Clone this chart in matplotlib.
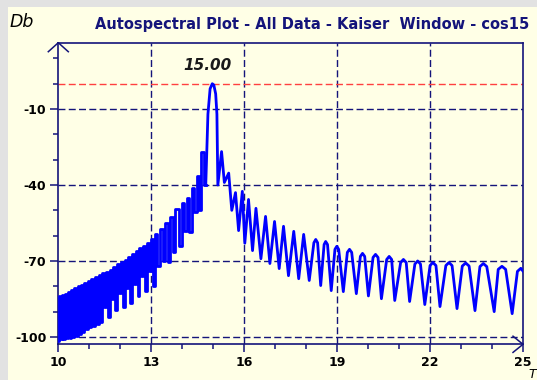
import matplotlib.pyplot as plt
from matplotlib.patches import Rectangle
import numpy as np

plt.rcParams["axes.unicode_minus"] = False

# spectrum: period T on x, level in Db on y
t_rise = [10.00, 10.04, 10.09, 10.14, 10.19, 10.24, 10.29, 10.34, 10.39, 10.44,
          10.49, 10.54, 10.59, 10.65, 10.70, 10.76, 10.81, 10.87, 10.92, 10.98,
          11.03, 11.09, 11.15, 11.21, 11.27, 11.33, 11.39, 11.45, 11.51, 11.57,
          11.63, 11.69, 11.75, 11.81, 11.87, 11.93, 11.99, 12.05, 12.11, 12.17,
          12.23, 12.29, 12.35, 12.41, 12.47, 12.53, 12.59, 12.65, 12.71, 12.77,
          12.83, 12.89, 12.95, 13.01, 13.08, 13.16, 13.24, 13.32, 13.41, 13.49,
          13.57, 13.65, 13.73, 13.83, 13.95, 14.03, 14.11, 14.19, 14.27, 14.35,
          14.43, 14.50, 14.56, 14.65, 14.76]
db_rise = [-101.5, -84.0, -101.0, -83.5, -101.0, -83.0, -100.5, -82.2, -100.5, -81.5,
           -100.0, -80.6, -99.5, -80.0, -99.0, -79.3, -98.0, -78.6, -97.0, -77.8,
           -96.2, -77.0, -95.6, -76.2, -95.0, -75.4, -94.2, -74.8, -88.0, -74.2,
           -92.0, -73.5, -85.0, -72.4, -89.5, -71.2, -82.5, -70.3, -88.0, -69.5,
           -80.5, -68.4, -86.5, -67.4, -79.0, -66.2, -84.0, -65.0, -76.0, -64.0,
           -82.0, -62.8, -74.0, -61.5, -80.0, -59.5, -72.0, -57.5, -70.0, -55.0,
           -70.5, -52.5, -66.5, -49.5, -64.0, -47.0, -58.0, -45.0, -58.5, -41.0,
           -50.5, -36.5, -50.0, -27.0, -40.0]

t_lobe = [14.76, 14.83, 14.90, 14.97, 15.02, 15.08, 15.12, 15.15]
db_lobe = [-40.0, -12.0, -2.0, 0.0, -0.5, -4.0, -12.0, -40.0]

t_tail = [15.27, 15.36, 15.50, 15.60, 15.72, 15.82, 15.94, 16.02,
          16.14, 16.27, 16.38, 16.54, 16.69, 16.83, 16.98, 17.13,
          17.27, 17.43, 17.60, 17.76, 17.92, 18.10,
          18.25, 18.31, 18.37, 18.47, 18.58, 18.63, 18.69, 18.81,
          18.93, 18.99, 19.05, 19.20, 19.33, 19.40, 19.47, 19.62,
          19.75, 19.82, 19.89, 20.01, 20.16, 20.24, 20.32, 20.43,
          20.60, 20.68, 20.76, 20.86, 21.05, 21.14, 21.23, 21.34,
          21.51, 21.60, 21.69, 21.83, 22.00, 22.09, 22.19, 22.32,
          22.51, 22.61, 22.71, 22.87, 23.04, 23.15, 23.26, 23.45,
          23.61, 23.72, 23.83, 24.07, 24.20, 24.32, 24.44, 24.65,
          24.82, 24.93, 25.00]
db_tail = [-26.8, -39.0, -35.3, -50.0, -43.0, -58.0, -42.5, -63.0,
           -45.7, -65.9, -49.2, -69.1, -52.4, -71.0, -54.4, -73.0,
           -56.3, -75.8, -58.3, -77.0, -59.5, -77.7,
           -62.8, -61.5, -62.8, -79.7, -63.5, -62.3, -63.5, -81.7,
           -65.4, -64.2, -65.4, -82.1, -66.6, -65.4, -66.6, -82.9,
           -68.2, -67.0, -68.2, -83.8, -68.6, -67.4, -68.6, -84.9,
           -69.4, -68.2, -69.4, -85.6, -70.6, -69.4, -70.6, -86.0,
           -71.2, -70.0, -71.2, -87.2, -71.8, -70.6, -71.8, -88.0,
           -71.8, -70.6, -71.8, -88.8, -72.0, -70.8, -72.0, -89.6,
           -72.2, -71.0, -72.2, -90.0, -73.3, -72.1, -73.3, -90.8,
           -74.1, -72.9, -74.0]

x_ticks = [10, 13, 16, 19, 22, 25]
y_ticks = [-100, -70, -40, -10]
ref_level = 0
peak_t = 15.0
peak_text = "15.00"
title = "Autospectral Plot - All Data - Kaiser  Window - cos15"

navy = "#14147a"
cream = "#ffffe6"
blue = "#0000ff"
dash = (0, (5, 2.4))

W, H = 537, 380
fig = plt.figure(figsize=(W / 100, H / 100), dpi=100, facecolor="#e2e2e2")
fig.add_artist(Rectangle((8 / W, 0), 1, 1 - 7 / H, transform=fig.transFigure,
                         facecolor=cream, edgecolor="none", zorder=0))

ax = fig.add_axes([58.3 / W, 1 - 344.3 / H, (523 - 58.3) / W, (344.3 - 42.7) / H])
ax.set_facecolor(cream)
ax.set_xlim(10, 25)
ax.set_ylim(-102.9, 16.2)

# grid
for x in x_ticks[1:-1]:
    ax.axvline(x, color=navy, lw=1.0, ls=dash, zorder=1)
for y in y_ticks:
    ax.axhline(y, color=navy, lw=1.0, ls=dash, zorder=1)
ax.axhline(ref_level, color="#ff4040", lw=1.0, ls=dash, zorder=1)

# dense rising part is drawn as steps, like the sampled original
ax.plot(t_rise, db_rise, color=blue, lw=2.0, drawstyle="steps-mid", zorder=3)
ax.plot(t_lobe + t_tail, db_lobe + db_tail, color=blue, lw=2.0, zorder=3)

ax.text(peak_t - 0.2, 5.4, peak_text, ha="center", va="baseline",
        fontsize=11, fontstyle="italic", fontweight="bold", color="#1a1a1a")

# ticks
ax.set_xticks(x_ticks)
ax.set_xticks(np.arange(10, 26, 1), minor=True)
ax.set_yticks(y_ticks)
ax.set_yticks(np.arange(-100, 20, 10), minor=True)
ax.tick_params(which="major", direction="out", length=5.5, width=1.1, color=navy,
               labelsize=9, pad=3)
ax.tick_params(which="minor", direction="out", length=3.5, width=1.1, color=navy)
for lab in ax.get_xticklabels() + ax.get_yticklabels():
    lab.set_fontweight("bold")

for s in ax.spines.values():
    s.set_color(navy)
    s.set_linewidth(1.2)

# arrow heads on the axes ends
dx, dy = 10 / 464.7, 9 / 301.6
ax.plot([-dx, 0, dx], [1 - dy, 1, 1 - dy], transform=ax.transAxes,
        color=navy, lw=1.1, clip_on=False, zorder=5)
ax.plot([1 - dx, 1, 1 - dx], [dy * 0.9, 0, -dy * 0.9], transform=ax.transAxes,
        color=navy, lw=1.1, clip_on=False, zorder=5)

fig.text(95 / W, 1 - 29 / H, title, fontsize=10.5, fontweight="bold", color=navy,
         ha="left", va="baseline")
fig.text(10 / W, 1 - 27 / H, "Db", fontsize=12.5, fontstyle="italic", ha="left",
         va="baseline")
fig.text(528 / W, 1 - 378 / H, "T", fontsize=9, fontstyle="italic", ha="left",
         va="baseline")

fig.savefig("out.png", dpi=100, facecolor=fig.get_facecolor())
